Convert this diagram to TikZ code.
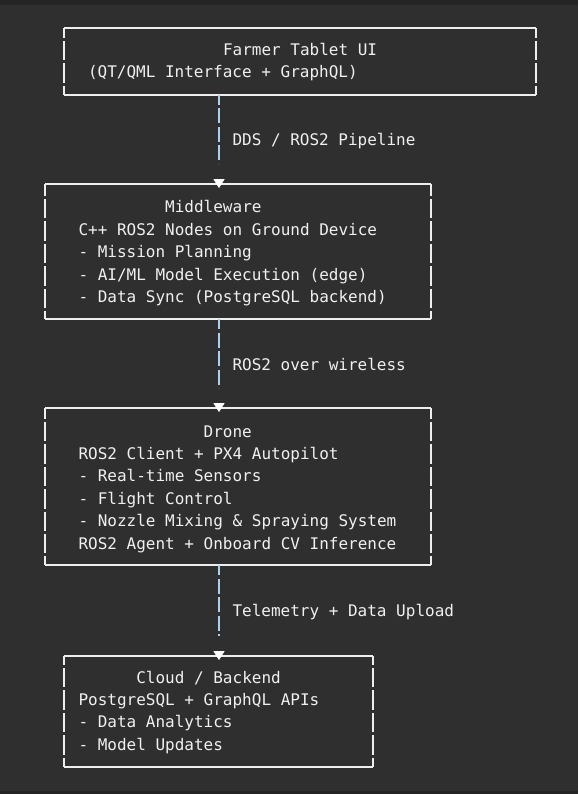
\documentclass[tikz,border=0pt]{standalone}
\usepackage{fontspec}
\newfontfamily\dmono{DejaVu Sans Mono}
\usetikzlibrary{calc}
\definecolor{bg}{HTML}{2F2F2F}
\definecolor{band}{HTML}{242424}
\definecolor{ink}{HTML}{F0F0F0}
\definecolor{edge}{HTML}{EEEEEE}
\definecolor{wire}{HTML}{A8D2F0}
\begin{document}
\begin{tikzpicture}[x=1pt,y=-1pt,
  txt/.style={anchor=base west, inner sep=0pt, outer sep=0pt, text=ink, font=\dmono\fontsize{16}{19}\selectfont},
  frame/.style={draw=none, inner sep=0pt, outer sep=0pt},
  hedge/.style={draw=edge, line width=1.5pt},
  vedge/.style={draw=edge, line width=1.5pt, dash pattern=on 19.4pt off 3pt, dash phase=#1},
  vedge/.default=0pt,
  conn/.style={draw=wire, line width=1.7pt, dash pattern=on 15pt off 3.5pt, dash phase=5pt},
  tiphead/.style={fill=white, draw=white, line width=0.6pt, line join=miter},
]
\fill[bg] (0,0) rectangle (578,794);
\fill[band] (0,0) rectangle (578,5);
\fill[band] (0,791) rectangle (578,794);
\useasboundingbox (0,0) rectangle (578,794);

% boxes
\node[frame, minimum width=472pt, minimum height=67pt] (b1) at (300,61.5) {};
\node[frame, minimum width=386pt, minimum height=135pt] (b2) at (238,251.5) {};
\node[frame, minimum width=386pt, minimum height=157pt] (b3) at (238,486.5) {};
\node[frame, minimum width=309pt, minimum height=111pt] (b4) at (218.5,711.5) {};

\foreach \b/\ph in {b1/9.4pt, b2/7.4pt, b3/8.4pt, b4/10.4pt}{
  \draw[vedge=\ph] (\b.north west) -- (\b.south west);
  \draw[vedge=\ph] (\b.north east) -- (\b.south east);
  \draw[hedge] (\b.north west) -- (\b.north east);
  \draw[hedge] (\b.south west) -- (\b.south east);
}

% box texts
\node[txt] (t1a) at (223,55.5) {Farmer Tablet UI};
\node[txt] (t1b) at (88,77.8) {(QT/QML Interface + GraphQL)};

\node[txt] (t2a) at (165.2,213) {Middleware};
\node[txt] (t2b) at (78.5,235.4) {C++ ROS2 Nodes on Ground Device};
\node[txt] (t2c) at (78.5,257.8) {- Mission Planning};
\node[txt] (t2d) at (78.5,280.2) {- AI/ML Model Execution (edge)};
\node[txt] (t2e) at (78.5,302.6) {- Data Sync (PostgreSQL backend)};

\node[txt] (t3a) at (203.7,437) {Drone};
\node[txt] (t3b) at (78.5,459.4) {ROS2 Client + PX4 Autopilot};
\node[txt] (t3c) at (78.5,481.8) {- Real-time Sensors};
\node[txt] (t3d) at (78.5,504.2) {- Flight Control};
\node[txt] (t3e) at (78.5,526.6) {- Nozzle Mixing \& Spraying System};
\node[txt] (t3f) at (78.5,549) {ROS2 Agent + Onboard CV Inference};

\node[txt] (t4a) at (136.3,683) {Cloud / Backend};
\node[txt] (t4b) at (78.5,705.4) {PostgreSQL + GraphQL APIs};
\node[txt] (t4c) at (78.5,727.8) {- Data Analytics};
\node[txt] (t4d) at (78.5,750.2) {- Model Updates};

% connectors
\coordinate (ax) at (219,0);
\foreach \s/\t in {b1/b2, b2/b3, b3/b4}{
  \draw[conn] (\s.south -| ax) -- ($(\t.north -| ax)+(0,-20)$);
  \filldraw[tiphead] ($(\t.north -| ax)+(0,3.5)$) -- ++(-5,-8) -- ++(10,0) -- cycle;
}

\node[txt] (l1) at (232.5,146) {DDS / ROS2 Pipeline};
\node[txt] (l2) at (232.5,370) {ROS2 over wireless};
\node[txt] (l3) at (232.5,616) {Telemetry + Data Upload};
\end{tikzpicture}
\end{document}
